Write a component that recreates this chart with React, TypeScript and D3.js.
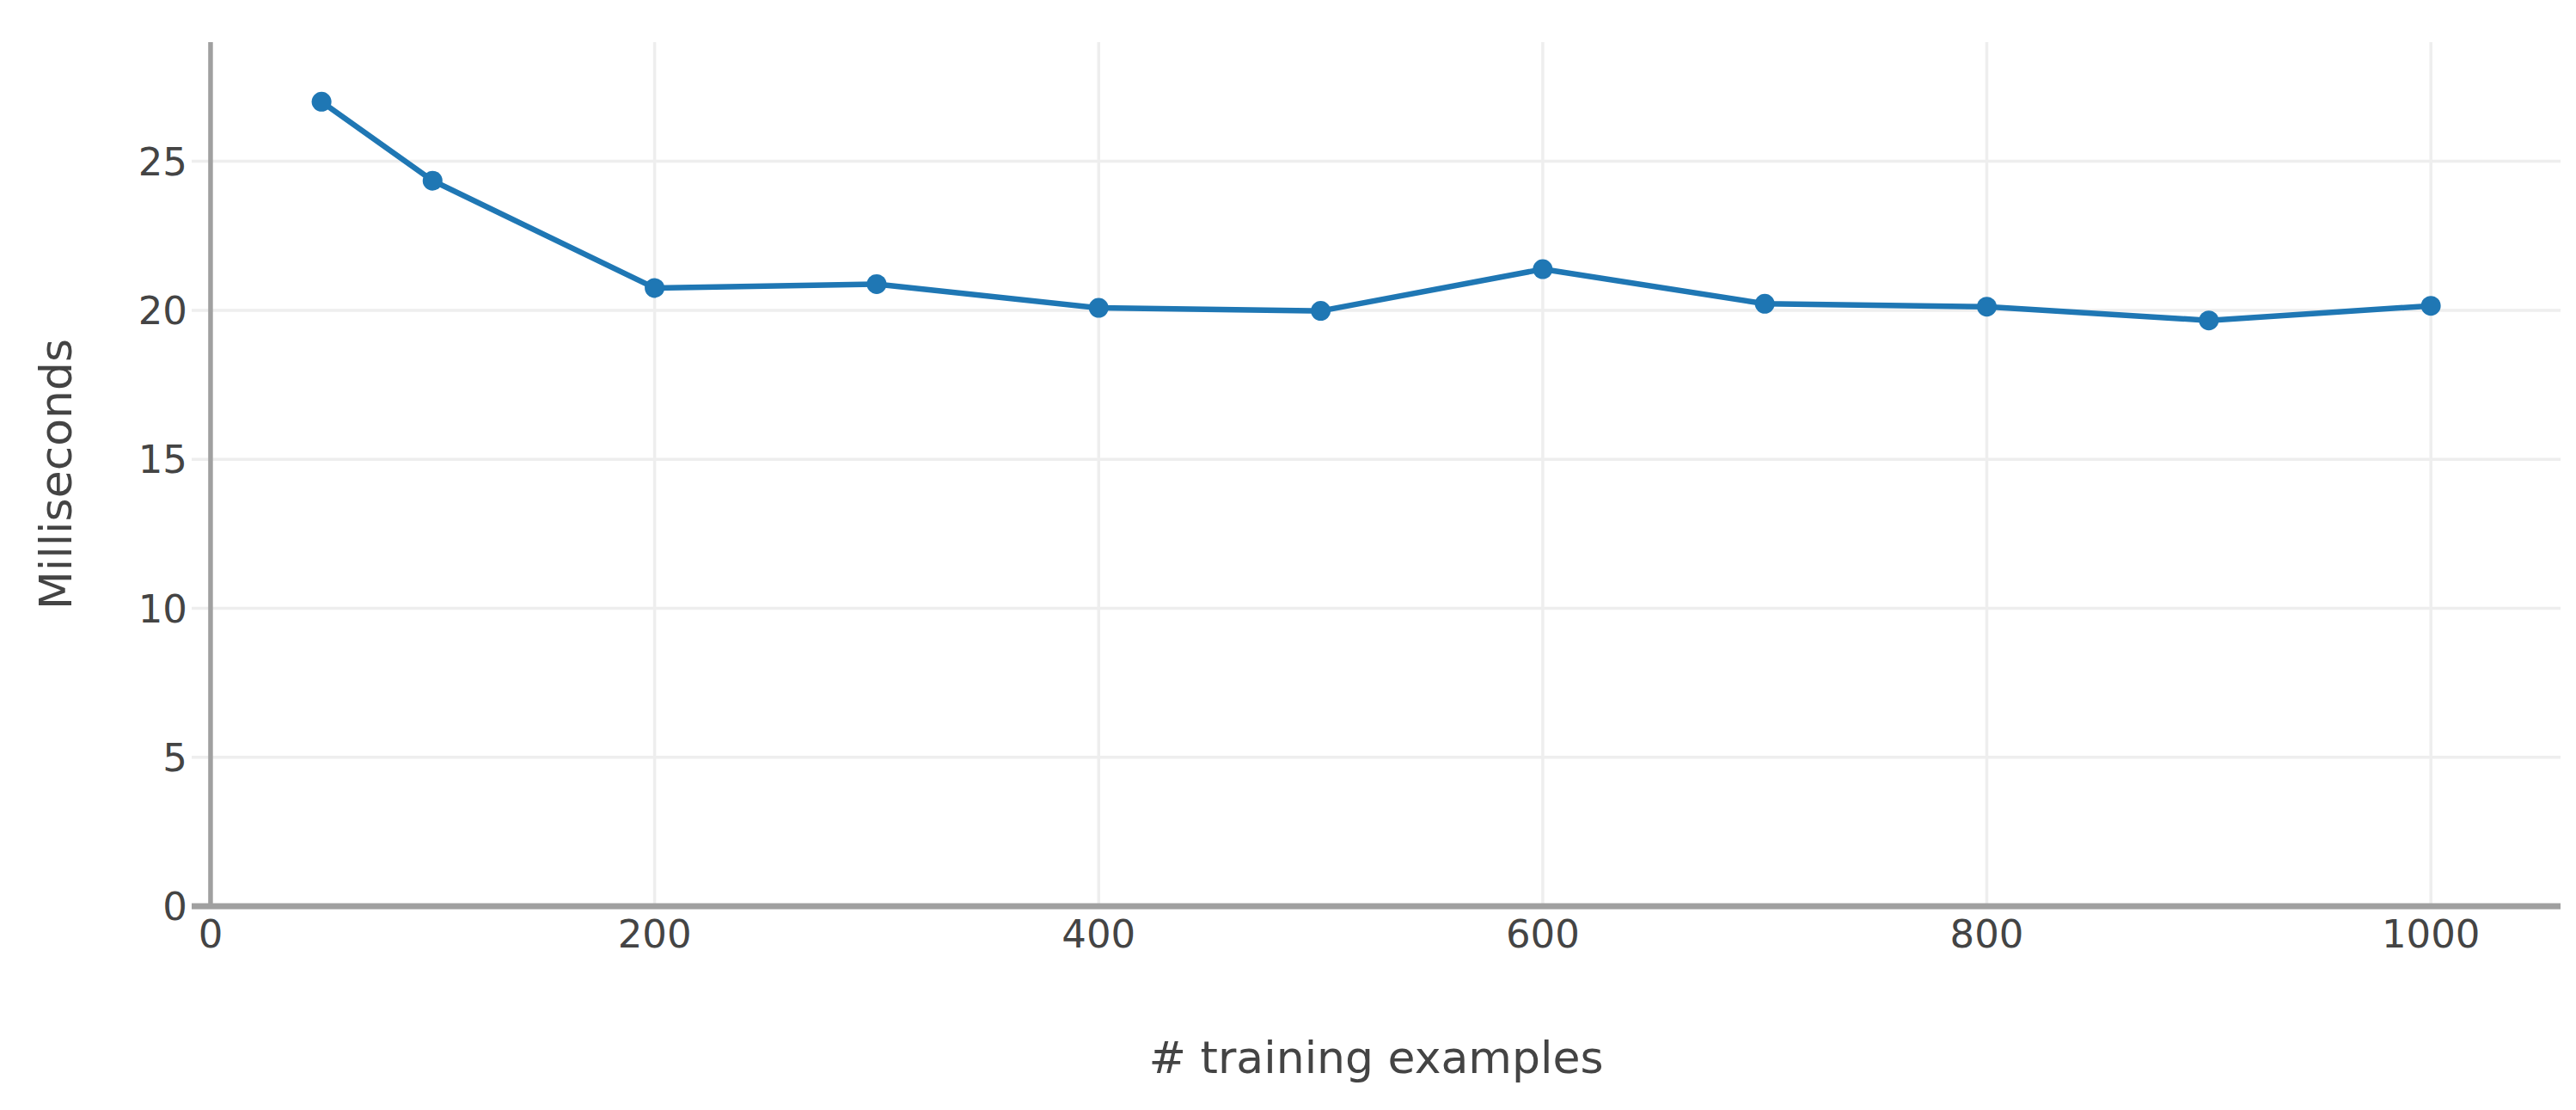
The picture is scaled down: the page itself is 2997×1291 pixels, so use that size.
import React, { useEffect } from 'react'
import * as d3 from 'd3'

// data
const trainingExamples = [50, 100, 200, 300, 400, 500, 600, 700, 800, 900, 1000]
const milliseconds = [27.0, 24.35, 20.75, 20.88, 20.08, 19.98, 21.38, 20.22, 20.12, 19.66, 20.15]
const xTicks = [0, 200, 400, 600, 800, 1000]
const yTicks = [0, 5, 10, 15, 20, 25]
const xTitle = '# training examples'
const yTitle = 'Milliseconds'

const App = () => {
  const svgRef = React.useRef<SVGSVGElement>(null)

  useEffect(() => {
    const width = 2997
    const height = 1291
    const left = 223
    const right = 2979
    const top = 49
    const bottom = 1054
    const font = '"DejaVu Sans", Verdana, sans-serif'

    const svg = d3.select(svgRef.current)
      .attr('width', width)
      .attr('height', height)
    svg.selectAll('*').remove()

    const x = d3.scaleLinear().domain([-8.5, 1058.4]).range([left, right])
    const y = d3.scaleLinear().domain([0, 29]).range([bottom, top])

    // grid
    svg.append('g')
      .selectAll('line')
      .data(yTicks.filter(d => d > 0))
      .join('line')
      .attr('x1', left).attr('x2', right)
      .attr('y1', d => y(d)).attr('y2', d => y(d))
      .style('stroke', '#eeeeee')
      .style('stroke-width', 3.5)

    svg.append('g')
      .selectAll('line')
      .data(xTicks.filter(d => d > 0))
      .join('line')
      .attr('x1', d => x(d)).attr('x2', d => x(d))
      .attr('y1', top).attr('y2', bottom)
      .style('stroke', '#eeeeee')
      .style('stroke-width', 3.5)

    // zero lines
    svg.append('line')
      .attr('x1', x(0)).attr('x2', x(0))
      .attr('y1', top).attr('y2', bottom)
      .style('stroke', '#a0a0a0')
      .style('stroke-width', 5.5)

    svg.append('line')
      .attr('x1', left).attr('x2', right)
      .attr('y1', y(0)).attr('y2', y(0))
      .style('stroke', '#a0a0a0')
      .style('stroke-width', 7)

    // tick labels
    svg.append('g')
      .selectAll('text')
      .data(xTicks)
      .join('text')
      .attr('x', d => x(d))
      .attr('y', 1102)
      .attr('text-anchor', 'middle')
      .style('font-family', font)
      .style('font-size', '45px')
      .style('fill', '#444')
      .text(d => d)

    svg.append('g')
      .selectAll('text')
      .data(yTicks)
      .join('text')
      .attr('x', 218)
      .attr('y', d => y(d))
      .attr('dy', '0.36em')
      .attr('text-anchor', 'end')
      .style('font-family', font)
      .style('font-size', '45px')
      .style('fill', '#444')
      .text(d => d)

    // axis titles
    svg.append('text')
      .attr('x', (left + right) / 2)
      .attr('y', 1248)
      .attr('text-anchor', 'middle')
      .style('font-family', font)
      .style('font-size', '52px')
      .style('fill', '#444')
      .text(xTitle)

    svg.append('text')
      .attr('transform', `translate(83,${(top + bottom) / 2}) rotate(-90)`)
      .attr('text-anchor', 'middle')
      .style('font-family', font)
      .style('font-size', '52px')
      .style('fill', '#444')
      .text(yTitle)

    // series
    const points = trainingExamples.map((d, i) => [d, milliseconds[i]] as [number, number])
    const line = d3.line<[number, number]>().x(d => x(d[0])).y(d => y(d[1]))

    svg.append('path')
      .datum(points)
      .attr('d', line)
      .style('fill', 'none')
      .style('stroke', '#1f77b4')
      .style('stroke-width', 6.5)
      .style('stroke-linejoin', 'round')

    svg.append('g')
      .selectAll('circle')
      .data(points)
      .join('circle')
      .attr('cx', d => x(d[0]))
      .attr('cy', d => y(d[1]))
      .attr('r', 11.5)
      .style('fill', '#1f77b4')
  }, [])

  return (
    <svg ref={svgRef} style={{ position: 'absolute', left: 0, top: 0, background: '#fff' }}></svg>
  )
}

export default App
